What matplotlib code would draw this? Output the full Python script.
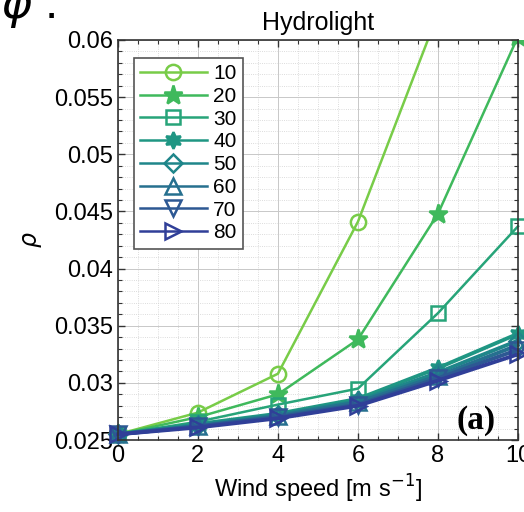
import matplotlib
matplotlib.use("Agg")
import matplotlib.pyplot as plt
from matplotlib.patches import Rectangle
from matplotlib.ticker import MultipleLocator

plt.rcParams["font.family"] = ["Liberation Sans", "DejaVu Sans"]

wind = [0, 2, 4, 6, 8, 10]
angles = [10, 20, 30, 40, 50, 60, 70, 80]
rho = {
    10: [0.0255, 0.0274, 0.0308, 0.0441, 0.0623, 0.0805],
    20: [0.0255, 0.0270, 0.0290, 0.0338, 0.0448, 0.0603],
    30: [0.0255, 0.0266, 0.0281, 0.0295, 0.0361, 0.0437],
    40: [0.0255, 0.0264, 0.0273, 0.0286, 0.0313, 0.0343],
    50: [0.0255, 0.0263, 0.0272, 0.0284, 0.0309, 0.0337],
    60: [0.0255, 0.0262, 0.0271, 0.0283, 0.0306, 0.0333],
    70: [0.0255, 0.0262, 0.0270, 0.0281, 0.0304, 0.0329],
    80: [0.0255, 0.0261, 0.0269, 0.0280, 0.0302, 0.0325],
}
colors = ["#78cc48", "#3fb95c", "#27a479", "#1f9683", "#1f868a",
          "#26708f", "#2d5893", "#303f98"]
markers = ["o", "*", "s", (6, 1, 0), "D", "^", "v", ">"]
msizes = [11, 14, 10, 12, 9, 11, 11, 11]

fig = plt.figure(figsize=(5.24, 5.12), dpi=100)
ax = fig.add_axes([0.225, 0.1406, 0.7635, 0.7813])

for a, c, m, ms in zip(angles, colors, markers, msizes):
    filled = m in ("*", (6, 1, 0))
    lw = 1.8 if a <= 30 else 2.8
    line, = ax.plot(wind, rho[a], color=c, lw=lw, marker=m, ms=ms,
                    mew=1.8, mfc=c if filled else "none", mec=c, label=str(a))
    # let edge markers show fully but cut everything above the top
    clip = Rectangle((-1, 0.023), 12, 0.06 - 0.023, transform=ax.transData)
    line.set_clip_path(clip)

ax.set_xlim(0, 10)
ax.set_ylim(0.025, 0.06)
ax.set_xticks(wind)
ax.set_yticks([0.025, 0.03, 0.035, 0.04, 0.045, 0.05, 0.055, 0.06])
ax.set_yticklabels(["0.025", "0.03", "0.035", "0.04", "0.045", "0.05", "0.055", "0.06"])
ax.xaxis.set_minor_locator(MultipleLocator(0.5))
ax.yaxis.set_minor_locator(MultipleLocator(0.001))
ax.tick_params(which="both", direction="in", top=True, right=True,
               labelsize=17, color="#333333")
ax.tick_params(which="major", length=5, width=1)
ax.tick_params(which="minor", length=3, width=0.8)
ax.grid(which="major", color="#c8c8c8", lw=0.7, ls="-")
ax.grid(which="minor", color="#d0d0d0", lw=0.6, ls=":")
ax.set_axisbelow(True)
for s in ax.spines.values():
    s.set_color("#333333")
    s.set_linewidth(1.2)

ax.set_title("Hydrolight", fontsize=18, pad=7)
ax.set_xlabel("Wind speed [m s$^{-1}$]", fontsize=17, labelpad=4)
ax.set_ylabel(r"$\rho$", fontsize=17, labelpad=7)

ax.text(8.95, 0.02675, "(a)", fontsize=24, fontweight="bold",
        family="Liberation Serif", ha="center", va="center")

leg = ax.legend(loc="upper left", bbox_to_anchor=(0.04, 0.955), fontsize=15,
                handlelength=3.2, handletextpad=0.3, labelspacing=0.18,
                borderpad=0.3, borderaxespad=0, fancybox=False, framealpha=1,
                edgecolor="#555555")
leg.get_frame().set_linewidth(1.2)
# same line weight for every legend entry
for h in leg.legend_handles:
    h.set_linewidth(1.8)

fig.text(0.0, 0.985, r"$\varphi$ .", fontsize=34, va="center", ha="left")

fig.savefig("out.png", dpi=100)
